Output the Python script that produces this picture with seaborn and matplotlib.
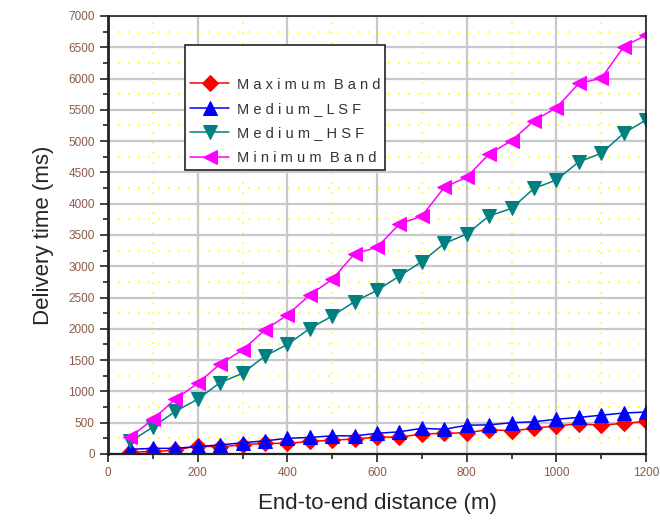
import pandas as pd
import seaborn as sns
import matplotlib.pyplot as plt
from matplotlib.ticker import MultipleLocator

# data
distance = [50, 100, 150, 200, 250, 300, 350, 400, 450, 500, 550, 600,
            650, 700, 750, 800, 850, 900, 950, 1000, 1050, 1100, 1150, 1200]
max_band = [30, 40, 60, 130, 110, 150, 170, 170, 200, 220, 240, 270,
            270, 320, 330, 340, 390, 370, 410, 450, 480, 460, 490, 520]
medium_lsf = [75, 90, 90, 120, 145, 180, 210, 250, 265, 290, 290, 330,
              355, 410, 395, 460, 465, 500, 515, 555, 585, 620, 655, 670]
medium_hsf = [200, 430, 680, 875, 1140, 1290, 1565, 1750, 2005, 2205, 2435, 2615,
              2845, 3075, 3365, 3515, 3805, 3925, 4245, 4380, 4670, 4805, 5125, 5340]
min_band = [270, 555, 874, 1130, 1438, 1662, 1982, 2222, 2541, 2792, 3200, 3303,
            3676, 3804, 4262, 4425, 4795, 5007, 5327, 5535, 5924, 6004, 6510, 6696]

series_names = ['Maximum Band', 'Medium_LSF', 'Medium_HSF', 'Minimum Band']
series_values = [max_band, medium_lsf, medium_hsf, min_band]
colors = ['#ff0000', '#0000ff', '#008080', '#ff00ff']
markers = ['D', '^', 'v', '<']
legend_labels = ['M a x i m u m  B a n d', 'M e d i u m _ L S F',
                 'M e d i u m _ H S F', 'M i n i m u m  B a n d']

sns.set_style('white')
plt.rcParams['font.family'] = ['Liberation Sans', 'DejaVu Sans']

fig = plt.figure(figsize=(6.6, 5.26), dpi=100)
ax = fig.add_axes([0.1636, 0.1369, 0.8154, 0.8327])

# grids: gray major, yellow dotted minor
ax.xaxis.set_major_locator(MultipleLocator(200))
ax.xaxis.set_minor_locator(MultipleLocator(100))
ax.yaxis.set_major_locator(MultipleLocator(500))
ax.yaxis.set_minor_locator(MultipleLocator(250))
ax.grid(which='major', color='#c8c8c8', lw=1.6, zorder=0)
ax.grid(which='minor', color='#ffff00', lw=1.2, ls=(0, (1, 5)), zorder=0)
ax.set_axisbelow(True)

for name, vals, c, m, lab in zip(series_names, series_values, colors, markers, legend_labels):
  df = pd.DataFrame({'distance': distance, 'time': vals})
  ms = 8 if m == 'D' else 10
  sns.lineplot(data=df, x='distance', y='time', ax=ax, color=c, marker=m,
               markersize=ms, markeredgecolor=c, lw=1.1, label=lab)

ax.set_xlim(0, 1200)
ax.set_ylim(0, 7000)

for s in ax.spines.values():
  s.set_color('#222222')
  s.set_linewidth(1.2)
ax.spines['left'].set_linewidth(2)
ax.spines['bottom'].set_linewidth(1.6)

ax.tick_params(which='major', direction='out', length=6, width=1.2, color='#222222',
               labelsize=8.5, labelcolor='#8a5a48', left=True, bottom=True)
ax.tick_params(which='minor', direction='out', length=3.5, width=1.2, color='#222222',
               left=True, bottom=True)
ax.set_xticks([0, 200, 400, 600, 800, 1000, 1200])
ax.set_xticklabels(['0', '200', '400', '600', '800', '1000', '1200'])

ax.set_xlabel('End-to-end distance (m)', fontsize=16, labelpad=10)
ax.set_ylabel('Delivery time (ms)', fontsize=16, labelpad=10)

leg = ax.legend(loc='upper left', bbox_to_anchor=(0.143, 0.934), borderaxespad=0,
                title=' ', fontsize=10.5, title_fontsize=14, frameon=True, fancybox=False,
                edgecolor='#222222', framealpha=1, handlelength=2.7, handletextpad=0.5,
                borderpad=0.35, labelspacing=0.72)
leg.get_frame().set_linewidth(1.2)
for t in leg.get_texts():
  t.set_color('#333333')

fig.savefig('out.png', dpi=100)
